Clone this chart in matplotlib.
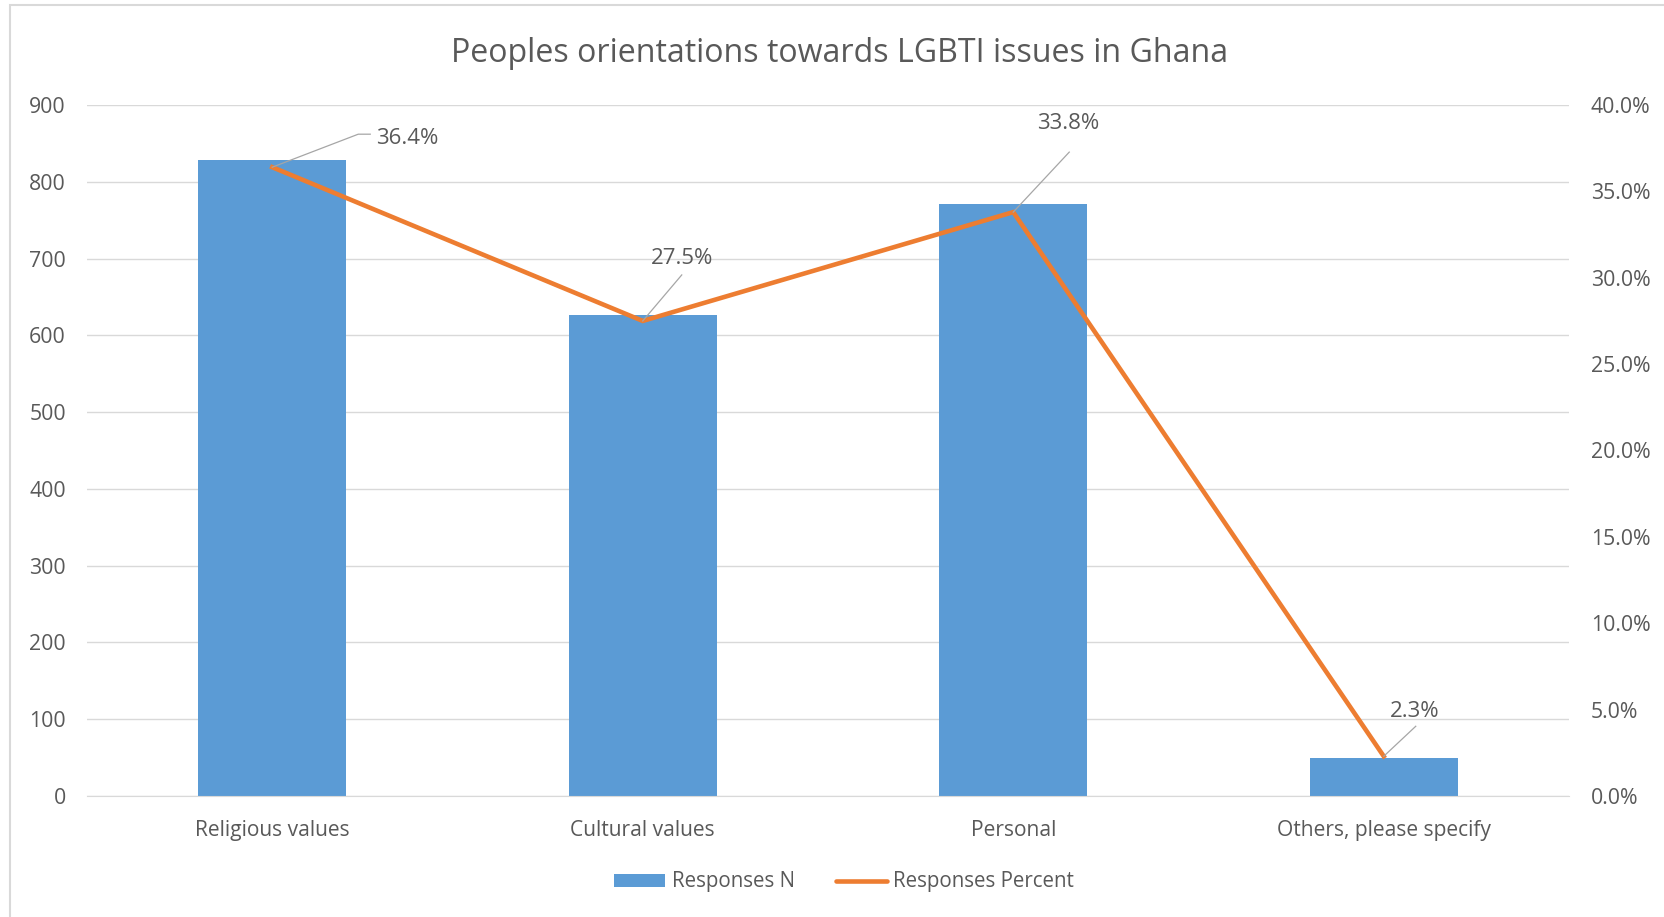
import matplotlib
matplotlib.use("Agg")
import matplotlib.pyplot as plt
from matplotlib.patches import Rectangle, Patch
from matplotlib.lines import Line2D
from matplotlib.ticker import FuncFormatter, MultipleLocator

plt.rcParams['font.family'] = ['Open Sans', 'DejaVu Sans']

categories = ["Religious values", "Cultural values", "Personal", "Others, please specify"]
responses_n = [828, 627, 771, 50]
responses_pct = [36.4, 27.5, 33.8, 2.3]

# Label placement: leader-line vertices and text anchor, in pixel offsets from each point
leader_offsets = [[(86, 33), (98, 33)], [(39, 46)], [(56, 60)], [(32, 30)]]
label_offsets = [(104, 29), (39, 62), (55, 89), (31, 45)]
label_align = ["left", "center", "center", "center"]

BLUE = "#5B9BD5"
ORANGE = "#ED7D31"
TEXT = "#595959"
GRID = "#D9D9D9"

W, H = 1665, 917
PT = 0.72  # points per pixel at 100 dpi
fig = plt.figure(figsize=(W / 100, H / 100), dpi=100)

# chart frame
fig.patches.append(Rectangle((10 / W, -0.1), 2, 1 - 5 / H + 0.1, transform=fig.transFigure,
                             fill=False, edgecolor="#D9D9D9", linewidth=1.5))

ax_l, ax_r, ax_t, ax_b = 87, 1569, 105, 796
ax = fig.add_axes([ax_l / W, 1 - ax_b / H, (ax_r - ax_l) / W, (ax_b - ax_t) / H])
ax2 = ax.twinx()

x = list(range(len(categories)))
ax.bar(x, responses_n, width=0.4, color=BLUE, zorder=2)
ax.set_xlim(-0.5, len(categories) - 0.5)
ax.set_ylim(0, 900)
ax.yaxis.set_major_locator(MultipleLocator(100))
ax.grid(axis="y", color=GRID, linewidth=1, zorder=0)
ax.set_axisbelow(True)
ax.set_xticks(x)
ax.set_xticklabels(categories)

ax2.plot(x, responses_pct, color=ORANGE, linewidth=3.3, solid_joinstyle="miter", zorder=3)
ax2.set_ylim(0, 40)
ax2.yaxis.set_major_locator(MultipleLocator(5))
ax2.yaxis.set_major_formatter(FuncFormatter(lambda v, _: f"{v:.1f}%"))

for a in (ax, ax2):
    for s in ("top", "left", "right"):
        a.spines[s].set_visible(False)
    a.spines["bottom"].set_color(GRID)
    a.tick_params(length=0, labelsize=15.3, labelcolor=TEXT)
ax2.spines["bottom"].set_visible(False)
ax.tick_params(axis="x", labelsize=15.1)
ax.tick_params(axis="y", pad=21 * PT)
ax2.tick_params(axis="y", pad=22 * PT)
ax.tick_params(axis="x", pad=24 * PT)

# pixel -> data conversion for leader lines
px_x = (len(categories)) / (ax_r - ax_l)
px_y = 40 / (ax_b - ax_t)
for xi, p, lead, lab, ha in zip(x, responses_pct, leader_offsets, label_offsets, label_align):
    xs = [xi] + [xi + dx * px_x for dx, dy in lead]
    ys = [p] + [p + dy * px_y for dx, dy in lead]
    ax2.plot(xs, ys, color="#A6A6A6", linewidth=0.9, zorder=4, clip_on=False)
    ax2.annotate(f"{p:.1f}%", xy=(xi, p), xytext=lab, textcoords="offset pixels",
                 ha=ha, va="center", fontsize=16, color=TEXT, zorder=5)

fig.text(0.5045, 1 - 54 / H, "Peoples orientations towards LGBTI issues in Ghana",
         ha="center", va="center", fontsize=23.1, color=TEXT)

handles = [Patch(facecolor=BLUE, edgecolor="none"),
           Line2D([0], [0], color=ORANGE, linewidth=3.3, solid_capstyle="round")]
fig.legend(handles, ["Responses N", "Responses Percent"], loc="center",
           bbox_to_anchor=(0.507, 1 - 882 / H), ncol=2, frameon=False,
           fontsize=14.8, labelcolor=TEXT, handlelength=2.5, handleheight=0.6,
           handletextpad=0.3, columnspacing=2.0)

fig.savefig("out.png", dpi=100)
